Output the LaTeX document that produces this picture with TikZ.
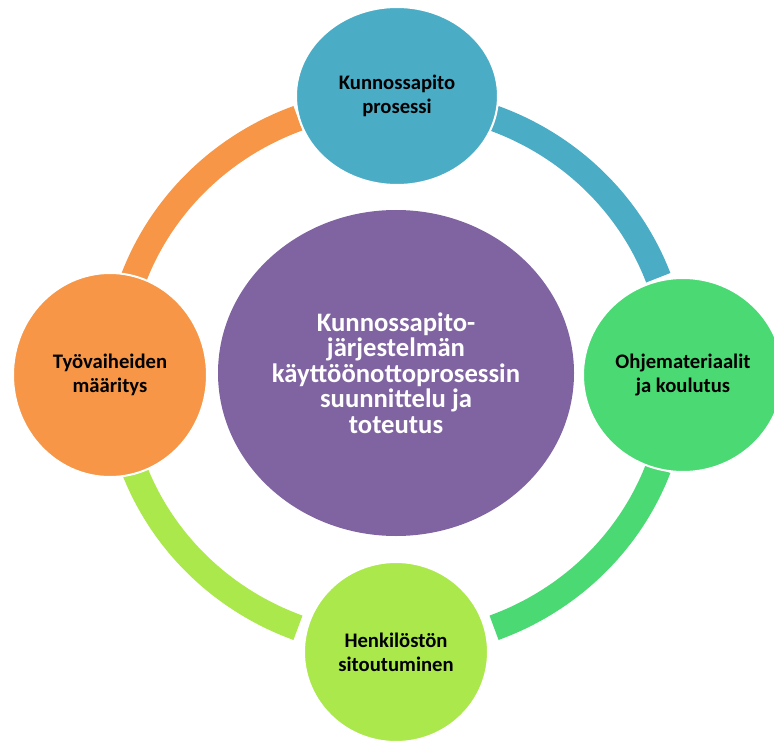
\documentclass[tikz,border=0pt]{standalone}
\usepackage{fontspec}
\setmainfont{Carlito}
\usetikzlibrary{shapes.geometric}
\definecolor{sini}{HTML}{4BACC6}
\definecolor{oranssi}{HTML}{F79646}
\definecolor{vihrea}{HTML}{4AD973}
\definecolor{limetti}{HTML}{AAE84B}
\definecolor{violetti}{HTML}{8064A2}

\begin{document}
\begin{tikzpicture}[x=0.75pt, y=0.75pt,
    pallo/.style={ellipse, draw=white, line width=1.5pt, inner sep=0pt, align=center,
      text=black, font=\fontsize{15.5}{18}\selectfont\bfseries},
    kaari/.style={line width=19.5pt}]
    \clip (0,0) rectangle (774,740);
    % Kehä
    \coordinate (kesk) at (396,367);
    \foreach \w/\vari in {135/oranssi, 45/sini, -45/vihrea, -135/limetti}{
      \draw[kaari, \vari] ([shift={({\w+24.5}:280 and 272)}]kesk)
        arc[start angle=\w+24.5, end angle=\w-24.5, x radius=280, y radius=272];
    }
    % Keskus
    \node[ellipse, fill=violetti, minimum width=267pt, minimum height=244.5pt, inner sep=0pt,
      align=center, text=white, font=\fontsize{20}{19.1}\selectfont\bfseries] (keskus) at (kesk)
      {Kunnossapito-\\järjestelmän\\käyttöönottoprosessin\\suunnittelu ja\\toteutus};
    % Pallot kehällä
    \node[pallo, fill=sini, minimum width=151.5pt, minimum height=133.5pt] (prosessi) at (397,644)
      {Kunnossapito\\prosessi};
    \node[pallo, fill=vihrea, minimum width=150pt, minimum height=145.5pt] (ohjeet) at (683,365)
      {Ohjemateriaalit\\ja koulutus};
    \node[pallo, fill=limetti, minimum width=138pt, minimum height=135pt] (henkilosto) at (396,88)
      {Henkilöstön\\sitoutuminen};
    \node[pallo, fill=oranssi, minimum width=145.5pt, minimum height=153pt] (vaiheet) at (110,365)
      {Työvaiheiden\\määritys};
  \end{tikzpicture}
\end{document}
